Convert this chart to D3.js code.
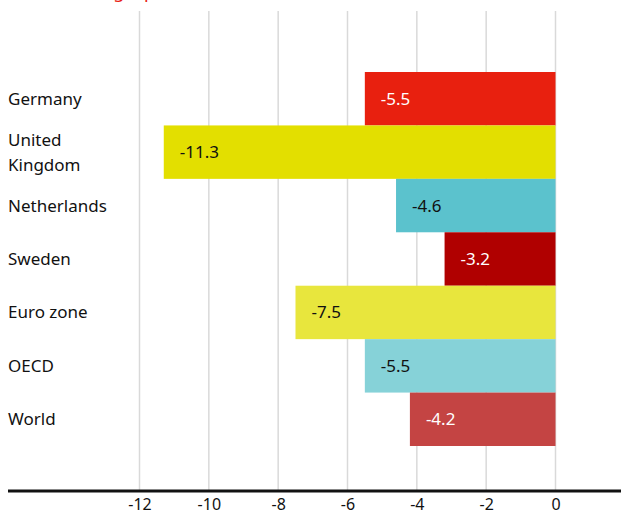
<!DOCTYPE html>
<html>
<head>
<meta charset="utf-8">
<script src="https://cdn.jsdelivr.net/npm/d3@7"></script>
<style>
body { margin: 0; background: #fff; }
text { font-family: "Noto Sans", Roboto, sans-serif; }
</style>
</head>
<body>
<svg id="chart" width="621" height="517"></svg>
<script>
// data
const countries = ['Germany', 'United\nKingdom', 'Netherlands', 'Sweden', 'Euro zone', 'OECD', 'World'];
const values = [-5.5, -11.3, -4.6, -3.2, -7.5, -5.5, -4.2];
const barColors = ['#e8200f', '#e3df00', '#5bc2cd', '#b00000', '#e8e63d', '#86d2d8', '#c44443'];
const labelColors = ['#fff', '#111', '#111', '#fff', '#111', '#111', '#fff'];
const ticks = [-12, -10, -8, -6, -4, -2, 0];

const svg = d3.select('#chart');
// plain hyphen for negatives, as in the original
const fmt = d => d3.format('.1f')(d).replace('\u2212', '-');

const x = d3.scaleLinear().domain([-12, 0]).range([139.5, 555.5]);
const y = d3.scaleBand().domain(countries).range([72, 446]).padding(0);

// red title, cut off at the top like the original
svg.append('text')
    .attr('x', 8).attr('y', -2)
    .attr('fill', '#e8200f')
    .attr('font-size', 18)
    .text('Annual change, per cent');

// gridlines
svg.append('g').selectAll('line').data(ticks).join('line')
    .attr('x1', d => x(d)).attr('x2', d => x(d))
    .attr('y1', 11).attr('y2', 490)
    .attr('stroke', '#d9d9d9').attr('stroke-width', 1.5);

// bars
svg.append('g').selectAll('rect').data(values).join('rect')
    .attr('x', d => x(d))
    .attr('y', (d, i) => y(countries[i]))
    .attr('width', d => x(0) - x(d))
    .attr('height', y.bandwidth())
    .attr('fill', (d, i) => barColors[i]);

// value labels
svg.append('g').selectAll('text').data(values).join('text')
    .attr('x', d => x(d) + 16)
    .attr('y', (d, i) => y(countries[i]) + y.bandwidth() / 2)
    .attr('dy', '0.35em')
    .attr('font-size', 17)
    .attr('font-family', 'Roboto, sans-serif')
    .attr('fill', (d, i) => labelColors[i])
    .text(fmt);

// category labels
const cat = svg.append('g').selectAll('text').data(countries).join('text')
    .attr('x', 8)
    .attr('font-size', 17)
    .attr('fill', '#111');
cat.each(function (d) {
    const lines = d.split('\n');
    const mid = y(d) + y.bandwidth() / 2;
    const el = d3.select(this);
    lines.forEach((l, k) => {
        el.append('tspan')
            .attr('x', 8)
            .attr('y', mid + (k - (lines.length - 1) / 2) * 25)
            .attr('dy', '0.35em')
            .text(l);
    });
});

// bottom axis
const axis = svg.append('g').attr('transform', 'translate(0,491)')
    .call(d3.axisBottom(x).tickValues(ticks).tickSize(0).tickPadding(8).tickFormat(d => String(d)));
axis.select('.domain').remove();
axis.selectAll('text').attr('font-size', 16).attr('fill', '#111')
    .attr('font-family', '"Noto Sans", Roboto, sans-serif');
svg.append('line')
    .attr('x1', 8).attr('x2', 621)
    .attr('y1', 491).attr('y2', 491)
    .attr('stroke', '#111').attr('stroke-width', 3);
</script>
</body>
</html>
